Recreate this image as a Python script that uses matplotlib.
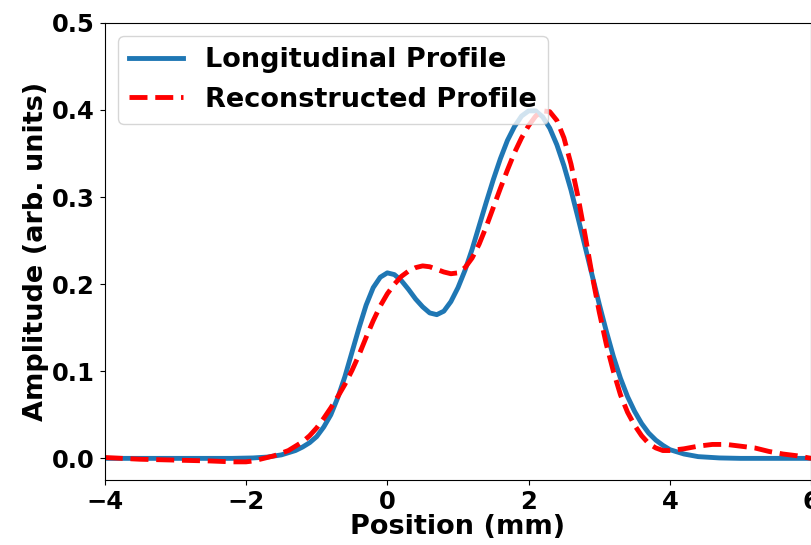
import matplotlib
matplotlib.use('Agg')
import matplotlib.pyplot as plt

# Longitudinal profile
x_long = [-4, -3, -2.2, -1.9, -1.7, -1.5, -1.3, -1.2, -1.1, -1.0, -0.9, -0.8, -0.7, -0.6, -0.5,
          -0.4, -0.3, -0.2, -0.1, 0.0, 0.1, 0.2, 0.3, 0.4, 0.5, 0.6, 0.7, 0.8, 0.9, 1.0,
          1.1, 1.2, 1.3, 1.4, 1.5, 1.6, 1.7, 1.8, 1.9, 2.0, 2.1, 2.2, 2.3, 2.4, 2.5,
          2.6, 2.7, 2.8, 2.9, 3.0, 3.1, 3.2, 3.3, 3.4, 3.5, 3.6, 3.7, 3.8, 3.9, 4.0,
          4.2, 4.4, 4.7, 5.0, 6.0]
y_long = [0, 0, 0, 0.0005, 0.0015, 0.004, 0.009, 0.013, 0.018, 0.025, 0.036, 0.05, 0.07, 0.094, 0.122,
          0.15, 0.176, 0.196, 0.208, 0.213, 0.211, 0.204, 0.194, 0.183, 0.174, 0.167, 0.165, 0.169, 0.18, 0.196,
          0.216, 0.24, 0.267, 0.294, 0.32, 0.344, 0.365, 0.381, 0.393, 0.399, 0.399, 0.392, 0.379, 0.36, 0.336,
          0.308, 0.276, 0.243, 0.21, 0.177, 0.146, 0.117, 0.092, 0.071, 0.054, 0.04, 0.029, 0.021, 0.015, 0.01,
          0.005, 0.002, 0.0005, 0, 0]

# Reconstructed profile
x_rec = [-4, -3.5, -3, -2.5, -2.2, -2.0, -1.9, -1.8, -1.7, -1.6, -1.5, -1.4, -1.3, -1.2, -1.1,
         -1.0, -0.9, -0.8, -0.7, -0.6, -0.5, -0.4, -0.3, -0.2, -0.1, 0.0, 0.1, 0.2, 0.3, 0.4,
         0.5, 0.6, 0.7, 0.8, 0.9, 1.0, 1.1, 1.2, 1.3, 1.4, 1.5, 1.6, 1.7, 1.8, 1.9,
         2.0, 2.1, 2.2, 2.3, 2.4, 2.5, 2.6, 2.7, 2.8, 2.9, 3.0, 3.1, 3.2, 3.3, 3.4,
         3.5, 3.6, 3.7, 3.8, 3.9, 4.0, 4.2, 4.4, 4.6, 4.8, 5.0, 5.2, 5.4, 5.6, 5.8, 6.0]
y_rec = [0.001, -0.001, -0.002, -0.003, -0.004, -0.004, -0.003, -0.001, 0.001, 0.003, 0.006, 0.009, 0.014, 0.019, 0.026,
         0.035, 0.046, 0.058, 0.071, 0.085, 0.101, 0.119, 0.139, 0.158, 0.175, 0.189, 0.2, 0.209, 0.215, 0.219,
         0.221, 0.22, 0.217, 0.214, 0.212, 0.213, 0.219, 0.23, 0.246, 0.266, 0.288, 0.31, 0.331, 0.351, 0.368,
         0.382, 0.393, 0.399, 0.398, 0.388, 0.368, 0.338, 0.3, 0.256, 0.21, 0.168, 0.131, 0.1, 0.073, 0.053,
         0.038, 0.026, 0.017, 0.012, 0.009, 0.009, 0.011, 0.014, 0.016, 0.016, 0.014, 0.012, 0.008, 0.005, 0.003, 0.0]

plt.rcParams['font.family'] = 'DejaVu Sans'
plt.rcParams['font.weight'] = 'bold'

fig = plt.figure(figsize=(8.12, 5.45), dpi=100)
ax = fig.add_axes([0.129, 0.119, 0.870, 0.839])

ax.plot(x_long, y_long, color='#1f77b4', linewidth=3.5, label='Longitudinal Profile')
ax.plot(x_rec, y_rec, color='red', linewidth=3.5, linestyle='--', label='Reconstructed Profile')

ax.set_xlim(-4, 6)
ax.set_ylim(-0.025, 0.5)
ax.set_xticks([-4, -2, 0, 2, 4, 6])
ax.set_yticks([0.0, 0.1, 0.2, 0.3, 0.4, 0.5])
ax.tick_params(labelsize=17.5)
for lbl in ax.get_xticklabels() + ax.get_yticklabels():
    lbl.set_fontweight('bold')

ax.set_xlabel('Position (mm)', fontsize=19.5, fontweight='bold', labelpad=0)
ax.set_ylabel('Amplitude (arb. units)', fontsize=19.5, fontweight='bold', labelpad=2)

ax.legend(loc='upper left', prop={'size': 19.5, 'weight': 'bold'})

plt.savefig('out.png', dpi=100)
